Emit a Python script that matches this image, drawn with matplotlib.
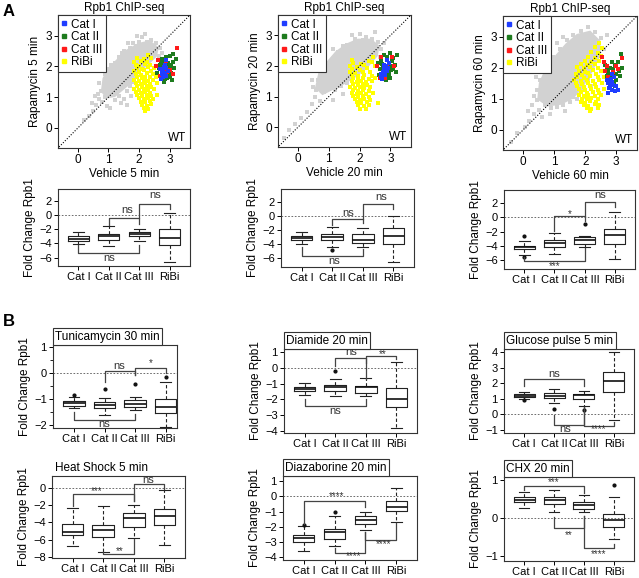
import numpy as np
import matplotlib
matplotlib.use("Agg")
import matplotlib.pyplot as plt
from matplotlib.patches import Polygon
from matplotlib.lines import Line2D
from matplotlib.transforms import offset_copy

plt.rcParams['font.family'] = ['Liberation Sans', 'DejaVu Sans']
plt.rcParams['font.size'] = 8

# ---------------- data ----------------
categories = ['Cat I', 'Cat II', 'Cat III', 'RiBi']

# Scatter panel 1: Vehicle 5 min vs Rapamycin 5 min
s5_gray_core = [(0.8, 1.2), (0.85, 1.6), (1.0, 1.9), (1.3, 2.2), (1.6, 2.5), (2.0, 2.72), (2.35, 2.8),
                (2.6, 2.6), (2.55, 2.35), (2.3, 2.1), (2.0, 1.85), (1.8, 1.55), (1.5, 1.3), (1.2, 1.05),
                (0.95, 1.0)]
s5_gray = [(0.2, 0.25), (0.35, 0.4), (0.5, 0.55), (0.6, 0.75), (0.7, 0.95), (0.75, 1.2), (0.8, 0.85),
           (0.9, 1.0), (0.95, 0.7), (1.05, 0.65), (1.2, 0.9), (1.35, 1.05), (1.5, 0.95), (1.6, 1.2),
           (1.7, 1.35), (1.8, 1.5), (1.0, 1.9), (1.2, 2.1), (1.35, 2.3), (1.5, 2.5), (1.7, 2.6),
           (1.8, 2.75), (2.0, 2.8), (2.1, 2.95), (2.25, 2.8), (2.4, 2.85), (2.55, 2.75), (2.7, 2.6),
           (2.65, 2.35), (1.9, 2.65), (1.6, 2.2), (0.65, 1.1), (1.15, 1.55), (1.3, 1.6), (0.95, 1.45),
           (2.3, 2.5), (0.45, 0.8), (1.4, 0.8), (2.75, 2.45), (1.95, 3.0), (0.7, 1.45), (0.9, 1.75),
           (1.1, 2.05), (1.45, 2.45), (1.65, 2.75), (2.2, 3.05), (1.6, 0.75), (1.75, 1.05), (0.55, 1.05)]
s5_ribi = [(2.3, 2.36), (1.95, 2.26), (2.15, 2.23), (2.4, 2.27), (1.85, 2.14), (2.05, 2.17), (2.25, 2.13),
           (1.9, 2.06), (2.0, 2.02), (2.2, 2.07), (2.35, 2.03), (1.95, 1.96), (2.1, 1.93), (2.3, 1.97),
           (2.5, 1.94), (1.85, 1.86), (2.0, 1.83), (2.15, 1.87), (2.4, 1.84), (1.9, 1.76), (2.05, 1.73),
           (2.25, 1.77), (2.45, 1.74), (1.95, 1.66), (2.1, 1.63), (2.2, 1.67), (2.35, 1.64), (2.55, 1.66),
           (1.85, 1.56), (2.0, 1.53), (2.15, 1.57), (2.3, 1.54), (2.45, 1.56), (1.9, 1.46), (2.05, 1.43),
           (2.2, 1.47), (2.35, 1.44), (2.6, 1.46), (1.95, 1.36), (2.1, 1.33), (2.25, 1.37), (2.4, 1.34),
           (1.85, 1.26), (2.0, 1.23), (2.15, 1.27), (2.3, 1.24), (2.5, 1.26), (1.9, 1.16), (2.05, 1.13),
           (2.2, 1.17), (2.35, 1.14), (1.95, 1.06), (2.1, 1.03), (2.25, 1.07), (2.4, 1.04), (2.6, 1.06),
           (2.0, 0.96), (2.15, 0.93), (2.3, 0.97), (2.45, 0.94), (2.05, 0.86), (2.2, 0.83), (2.35, 0.87),
           (2.1, 0.76), (2.25, 0.73), (2.4, 0.77), (2.15, 0.66), (2.3, 0.63), (2.2, 0.55)]
s5_cat1 = [(2.75, 1.75), (2.8, 1.85), (2.85, 1.8), (2.9, 1.95), (2.78, 1.65), (2.82, 1.98), (2.7, 1.9),
           (2.88, 1.7), (2.95, 1.85), (2.72, 1.6), (2.85, 2.05), (2.9, 2.2), (2.76, 1.78)]
s5_cat2 = [(2.65, 1.95), (2.7, 2.05), (2.8, 2.1), (2.9, 2.0), (3.0, 1.9), (3.05, 2.05), (2.95, 1.75),
           (2.85, 1.6), (3.0, 1.65), (2.75, 2.25), (2.6, 1.8), (3.1, 2.15), (3.15, 1.95), (2.9, 2.3),
           (2.95, 2.1), (3.0, 2.35), (2.68, 1.7), (3.08, 1.55), (2.82, 1.5), (3.2, 2.25), (2.98, 1.98),
           (2.88, 1.88), (3.05, 1.8), (2.72, 2.15), (2.92, 1.62), (3.12, 2.4)]
s5_cat3 = [(3.25, 2.6), (2.9, 2.18), (2.7, 1.68), (2.62, 2.2), (3.02, 1.88), (2.8, 1.72), (2.92, 1.82),
           (2.55, 2.0), (3.1, 1.75)]

# Scatter panel 2: 20 min
s20_gray_core = [(0.6, 1.3), (0.7, 1.75), (0.95, 2.1), (1.25, 2.45), (1.6, 2.7), (1.95, 2.85), (2.35, 2.85),
                 (2.6, 2.65), (2.55, 2.35), (2.25, 2.0), (1.9, 1.7), (1.5, 1.45), (1.1, 1.25), (0.8, 1.1)]
s20_gray = [(-0.45, -0.35), (-0.3, -0.1), (-0.1, 0.1), (0.1, 0.3), (0.3, 0.5), (0.45, 0.75), (0.55, 1.0),
            (0.6, 1.2), (0.7, 0.85), (0.85, 1.15), (1.0, 1.25), (1.2, 1.2), (1.4, 1.35), (1.6, 1.45),
            (1.75, 1.6), (0.65, 1.55), (0.8, 1.8), (1.0, 2.1), (1.3, 2.45), (1.6, 2.7), (1.85, 2.9),
            (2.0, 3.05), (2.2, 2.95), (2.4, 2.9), (2.6, 2.8), (2.7, 2.55), (2.65, 2.3), (2.5, 3.1),
            (1.45, 2.65), (2.1, 2.85), (0.9, 1.5), (1.3, 1.75), (2.35, 2.4), (1.15, 0.9), (0.5, 1.3),
            (1.7, 2.3), (2.0, 2.2), (0.45, 1.55), (0.6, 1.9), (0.85, 2.2), (1.15, 2.55), (1.75, 3.0),
            (1.45, 1.1), (1.7, 1.3), (2.8, 2.75)]
s20_ribi = [(2.45, 2.31), (1.75, 2.21), (2.3, 2.18), (1.8, 2.11), (2.05, 2.08), (2.4, 2.12), (1.7, 2.01),
            (1.9, 1.98), (2.15, 2.02), (2.5, 1.99), (1.75, 1.91), (2.0, 1.88), (2.25, 1.92), (1.7, 1.81),
            (1.85, 1.78), (2.1, 1.82), (2.35, 1.79), (1.75, 1.71), (1.95, 1.68), (2.15, 1.72), (2.4, 1.69),
            (1.8, 1.61), (1.95, 1.58), (2.1, 1.62), (2.3, 1.59), (2.5, 1.61), (1.75, 1.51), (1.9, 1.48),
            (2.05, 1.52), (2.2, 1.49), (2.4, 1.51), (1.8, 1.41), (1.95, 1.38), (2.1, 1.42), (2.25, 1.39),
            (1.7, 1.31), (1.85, 1.28), (2.0, 1.32), (2.15, 1.29), (2.35, 1.31), (1.8, 1.21), (1.95, 1.18),
            (2.1, 1.22), (2.3, 1.19), (1.75, 1.11), (1.9, 1.08), (2.05, 1.12), (2.2, 1.09), (2.45, 1.11),
            (1.8, 1.01), (1.95, 0.98), (2.1, 1.02), (2.3, 0.99), (1.85, 0.91), (2.0, 0.88), (2.15, 0.92),
            (2.35, 0.89), (1.9, 0.81), (2.05, 0.78), (2.25, 0.82), (2.6, 0.79), (1.95, 0.71), (2.15, 0.68),
            (2.3, 0.72), (2.0, 0.61), (2.2, 0.59)]
s20_cat1 = [(2.8, 1.9), (2.85, 2.0), (2.75, 1.8), (2.9, 1.85), (2.7, 1.65), (2.95, 2.1), (2.82, 1.7),
            (2.78, 2.05), (2.92, 1.95), (2.68, 1.75), (2.88, 2.2), (2.74, 1.58)]
s20_cat2 = [(2.6, 2.1), (2.7, 2.2), (2.9, 2.3), (3.0, 2.0), (3.1, 1.9), (2.95, 1.75), (2.85, 1.65),
            (3.05, 2.15), (2.65, 1.9), (3.15, 2.05), (3.2, 2.35), (2.8, 2.35), (3.0, 1.6), (2.75, 1.95),
            (2.92, 1.8), (3.08, 2.25), (2.62, 1.7), (2.98, 2.42), (3.18, 1.8), (2.86, 1.55), (2.72, 2.08),
            (3.02, 1.88)]
s20_cat3 = [(2.65, 1.6), (2.58, 2.0), (2.8, 1.75), (3.05, 2.3), (2.9, 1.98), (2.7, 2.3), (3.12, 2.0),
            (2.84, 1.62)]

# Scatter panel 3: 60 min
s60_gray_core = [(0.5, 1.0), (0.55, 1.5), (0.75, 1.95), (1.05, 2.35), (1.4, 2.75), (1.75, 3.05), (2.15, 3.15),
                 (2.45, 2.85), (2.45, 2.4), (2.2, 1.9), (1.9, 1.4), (1.6, 1.05), (1.2, 0.85), (0.8, 0.8)]
s60_gray = [(-0.4, -0.4), (-0.2, -0.1), (0.05, 0.1), (0.2, 0.3), (0.35, 0.5), (0.3, 0.8), (0.45, 0.95),
            (0.5, 0.65), (0.6, 0.4), (0.7, 0.8), (0.9, 0.7), (1.1, 0.75), (1.3, 0.8), (1.5, 0.9),
            (1.75, 1.0), (1.9, 1.3), (2.1, 1.6), (0.45, 1.3), (0.55, 1.6), (0.7, 2.05), (0.95, 2.35),
            (1.2, 2.6), (1.4, 2.9), (1.6, 3.05), (1.85, 3.2), (2.1, 3.3), (2.3, 3.15), (2.5, 2.95),
            (2.6, 2.6), (2.55, 2.35), (1.0, 1.1), (0.35, 1.1), (1.3, 3.0), (2.2, 1.4), (1.6, 1.05),
            (0.15, 0.6), (2.7, 3.05), (0.85, 0.5), (0.4, 1.7), (0.6, 2.2), (0.85, 2.5), (1.1, 2.8),
            (1.95, 1.05), (1.35, 0.6)]
s60_ribi = [(2.45, 2.8), (2.3, 2.66), (2.55, 2.63), (2.2, 2.51), (2.4, 2.48), (2.1, 2.36), (2.3, 2.33),
            (2.5, 2.37), (2.0, 2.21), (2.2, 2.18), (2.45, 2.22), (2.6, 2.19), (1.85, 2.11), (2.05, 2.08),
            (2.3, 2.12), (1.75, 2.01), (1.95, 1.98), (2.15, 2.02), (2.4, 1.99), (1.8, 1.91), (2.0, 1.88),
            (2.25, 1.92), (2.5, 1.89), (1.7, 1.81), (1.9, 1.78), (2.1, 1.82), (2.35, 1.79), (1.75, 1.71),
            (1.95, 1.68), (2.15, 1.72), (2.4, 1.69), (2.6, 1.71), (1.65, 1.61), (1.85, 1.58), (2.05, 1.62),
            (2.25, 1.59), (2.45, 1.61), (1.7, 1.51), (1.9, 1.48), (2.1, 1.52), (2.3, 1.49), (2.55, 1.51),
            (1.75, 1.41), (1.95, 1.38), (2.15, 1.42), (2.35, 1.39), (1.8, 1.31), (2.0, 1.28), (2.2, 1.32),
            (2.4, 1.29), (2.6, 1.31), (1.85, 1.21), (2.05, 1.18), (2.25, 1.22), (2.45, 1.19), (1.8, 1.11),
            (1.95, 1.08), (2.1, 1.12), (2.3, 1.09), (2.5, 1.11), (1.9, 1.01), (2.05, 0.98), (2.2, 1.02),
            (2.4, 0.99), (1.85, 0.91), (2.0, 0.88), (2.15, 0.92), (2.35, 0.89), (1.95, 0.81), (2.1, 0.78),
            (2.3, 0.82), (2.45, 0.79), (2.05, 0.71), (2.2, 0.68), (2.4, 0.72), (2.15, 0.6)]
s60_cat1 = [(2.75, 1.5), (2.8, 1.4), (2.85, 1.3), (2.9, 1.45), (2.95, 1.25), (2.7, 1.6), (2.82, 1.65),
            (2.88, 1.55), (2.78, 1.35), (3.0, 1.4), (2.72, 1.2), (2.92, 1.7), (2.85, 1.8), (3.05, 1.3)]
s60_cat2 = [(2.75, 1.85), (2.8, 2.0), (2.9, 1.95), (2.95, 2.1), (3.0, 1.8), (3.05, 2.2), (2.7, 1.95),
            (2.85, 2.2), (3.1, 1.9), (2.88, 1.7), (2.78, 1.75), (3.0, 1.6), (2.92, 1.5), (3.15, 2.45),
            (2.65, 2.1), (2.95, 1.4), (3.12, 1.75), (2.82, 1.55), (3.2, 2.0), (2.7, 1.75)]
s60_cat3 = [(2.6, 2.2), (2.7, 2.05), (2.75, 1.7), (3.05, 1.95), (3.2, 2.3), (2.65, 1.9), (2.55, 2.35),
            (2.9, 1.85), (3.0, 2.05)]

# Box plot summaries per category: [whisker low, Q1, median, Q3, whisker high]
rap5_box = [[-4.05, -3.6, -3.35, -3.0, -2.35], [-4.3, -3.5, -3.0, -2.65, -1.6],
            [-3.7, -3.0, -2.7, -2.45, -1.9], [-6.65, -4.2, -3.2, -2.0, 0.37]]
rap5_fliers = [[], [], [], []]
rap20_box = [[-4.0, -3.4, -3.1, -2.85, -2.2], [-4.4, -3.4, -2.9, -2.55, -1.5],
             [-4.4, -3.75, -3.4, -2.6, -1.65], [-6.45, -3.9, -2.8, -1.75, 0.05]]
rap20_fliers = [[], [-4.85], [], []]
rap60_box = [[-5.3, -4.45, -4.2, -3.95, -3.35], [-5.05, -4.2, -3.6, -3.2, -2.15],
             [-4.1, -3.7, -3.1, -2.75, -2.6], [-5.85, -3.7, -2.4, -1.6, 0.8]]
rap60_fliers = [[-2.65, -5.5], [], [-0.95], []]
tunic_box = [[-1.33, -1.25, -1.15, -1.07, -0.9], [-1.6, -1.35, -1.22, -1.09, -0.93],
             [-1.42, -1.29, -1.16, -1.03, -0.9], [-2.08, -1.52, -1.29, -1.0, -0.32]]
tunic_fliers = [[-0.84], [-0.62], [-0.39], [-0.15]]
diamide_box = [[-1.7, -1.45, -1.34, -1.21, -0.96], [-1.77, -1.49, -1.21, -1.09, -0.74],
               [-1.81, -1.6, -1.21, -1.13, -0.66], [-3.83, -2.49, -1.98, -1.28, 0.36]]
diamide_fliers = [[], [-0.21], [], []]
glucose_box = [[0.99, 1.09, 1.2, 1.31, 1.44], [0.75, 1.03, 1.2, 1.35, 1.61],
               [0.54, 0.97, 1.24, 1.31, 1.52], [-0.36, 1.46, 2.17, 2.7, 4.0]]
glucose_fliers = [[0.92], [0.32], [0.28], []]
heat_box = [[-6.76, -5.52, -5.14, -4.17, -2.36], [-7.45, -5.71, -4.83, -4.29, -2.12],
            [-5.83, -4.48, -3.47, -2.9, -1.9], [-6.6, -4.29, -3.28, -2.43, -0.19]]
heat_fliers = [[], [], [], []]
diaz_box = [[-3.57, -2.99, -2.73, -2.55, -1.97], [-3.25, -2.77, -2.34, -2.12, -1.3],
            [-2.19, -1.8, -1.58, -1.3, -1.0], [-1.69, -0.97, -0.71, -0.32, 0.54]]
diaz_fliers = [[-1.9], [-1.04], [], []]
chx_box = [[0.26, 0.42, 0.49, 0.56, 0.69], [0.16, 0.37, 0.48, 0.56, 0.75],
           [0.16, 0.24, 0.35, 0.43, 0.61], [-0.55, -0.22, -0.04, 0.12, 0.55]]
chx_fliers = [[], [], [], [0.88]]

# significance brackets: (cat a, cat b, bar y, leg a end, leg b end, label, text x, text y)
rap5_sig = [(2, 3, -0.35, -1.4, -1.2, 'ns', 2.6, 0.75), (3, 4, 1.6, -0.35, 0.9, 'ns', 3.52, 2.85),
            (1, 3, -5.35, -4.2, -4.2, 'ns', 2.0, -6.05)]
rap20_sig = [(2, 3, -0.4, -1.25, -1.0, 'ns', 2.53, 0.45), (3, 4, 1.65, -0.4, 1.0, 'ns', 3.6, 2.65),
             (1, 3, -5.7, -4.4, -4.6, 'ns', 2.05, -6.4)]
rap60_sig = [(2, 3, 0.15, -1.9, -0.5, '*', 2.52, 0.45), (3, 4, 2.15, 0.15, 1.45, 'ns', 3.5, 3.15),
             (1, 3, -6.1, -5.5, -4.3, '***', 2.0, -6.85)]
tunic_sig = [(2, 3, 0.1, -0.32, -0.06, 'ns', 2.48, 0.28), (3, 4, 0.22, -0.06, 0.0, '*', 3.5, 0.4),
             (1, 3, -1.78, -1.48, -1.55, 'ns', 2.0, -1.95)]
diamide_sig = [(2, 3, 0.64, 0.1, 0.32, 'ns', 2.53, 0.98), (3, 4, 0.74, -0.7, 0.57, '**', 3.55, 0.88),
               (1, 3, -2.4, -2.0, -2.0, 'ns', 2.0, -2.72)]
glucose_sig = [(1, 3, 2.25, 1.82, 1.82, 'ns', 2.0, 2.58), (2, 3, -0.69, -0.04, 0.45, 'ns', 2.36, -0.97),
               (3, 4, -0.75, 0.45, -0.47, '****', 3.5, -0.92)]
heat_sig = [(1, 3, -0.7, -2.05, -1.47, '***', 1.78, -0.3), (3, 4, 0.46, -1.47, -0.04, 'ns', 3.47, 1.0),
            (2, 3, -7.72, -7.5, -5.9, '**', 2.54, -7.35)]
diaz_sig = [(1, 3, -0.32, -1.8, -0.71, '****', 2.07, 0.02), (2, 3, -3.7, -3.42, -2.34, '****', 2.6, -3.9),
            (3, 4, -2.88, -2.34, -1.75, '****', 3.6, -3.15)]
chx_sig = [(1, 3, 0.85, 0.74, 0.66, '***', 2.0, 0.94), (2, 3, -0.26, 0.03, 0.05, '**', 2.5, -0.43),
           (3, 4, -0.78, 0.05, -0.68, '****', 3.5, -0.93)]

# ---------------- drawing ----------------
W, H = 639, 578
fig = plt.figure(figsize=(W / 100, H / 100), dpi=100)


def rect(l, t, r, b):
    return [l / W, 1 - b / H, (r - l) / W, (b - t) / H]


GRAY = '#d2d2d2'
COL1, COL2, COL3, COLR = '#1f3dff', '#1e7b1e', '#ff1a1a', '#ffff00'


def style_axes(ax):
    for s in ax.spines.values():
        s.set_linewidth(0.8)
        s.set_color('#333333')
    ax.tick_params(direction='out', length=3, width=0.7, pad=1.5, labelsize=8)


def scatter_panel(r, core, gray, ribi, c1, c2, c3, xl, yl):
    ax = fig.add_axes(rect(*r))
    style_axes(ax)
    ax.add_patch(Polygon(core, closed=True, fc=GRAY, ec=GRAY, lw=2, zorder=1))
    g = np.array(gray)
    ax.scatter(g[:, 0], g[:, 1], s=5, marker='s', c=GRAY, lw=0, zorder=1)
    for pts, col in [(ribi, COLR), (c2, COL2), (c3, COL3), (c1, COL1)]:
        p = np.array(pts)
        ax.scatter(p[:, 0], p[:, 1], s=5, marker='s', c=col, lw=0, zorder=2)
    ax.plot([-1, 4], [-1, 4], ls=(0, (1, 1.5)), color='k', lw=0.8, zorder=3)
    ax.set_xlim(-0.65, 3.67)
    ax.set_ylim(-0.65, 3.67)
    ax.set_xticks([0, 1, 2, 3])
    ax.set_yticks([0, 1, 2, 3])
    ax.tick_params(labelsize=8.5)
    ax.set_xlabel(xl, fontsize=8.5, labelpad=1)
    ax.set_ylabel(yl, fontsize=8.5, labelpad=3)
    ax.set_title('Rpb1 ChIP-seq', fontsize=8.5, pad=3)
    handles = [Line2D([], [], marker='s', ls='none', color=c, ms=3.5) for c in (COL1, COL2, COL3, COLR)]
    leg = ax.legend(handles, categories, loc='upper left', borderaxespad=0, handlelength=0.5,
                    handletextpad=0.3, labelspacing=0.05, borderpad=0.3, fancybox=False,
                    framealpha=1, edgecolor='#333333', fontsize=8.5)
    leg.get_frame().set_linewidth(0.8)
    ax.text(0.97, 0.03, 'WT', ha='right', va='bottom', transform=ax.transAxes, fontsize=8.5)


def box_panel(r, box, fliers, sig, ylim, yticks, title=None, boxed=True, minor=None, xlim=(0.33, 4.67)):
    ax = fig.add_axes(rect(*r))
    style_axes(ax)
    stats = [dict(whislo=b[0], q1=b[1], med=b[2], q3=b[3], whishi=b[4], fliers=f, label=c)
             for b, f, c in zip(box, fliers, categories)]
    ax.axhline(0, ls=(0, (2, 2)), color='#555555', lw=0.6, zorder=0)
    ax.bxp(stats, positions=[1, 2, 3, 4], widths=0.7, capwidths=0.35, showfliers=True,
           boxprops=dict(color='#222222', lw=0.8), whiskerprops=dict(color='#222222', lw=0.8, ls=(0, (3, 2))),
           capprops=dict(color='#222222', lw=0.8), medianprops=dict(color='#111111', lw=1.2),
           flierprops=dict(marker='o', ms=2, mfc='#111111', mec='#111111'), manage_ticks=False)
    for a, b, yb, ya, yb2, lab, tx, ty in sig:
        ax.plot([a, a, b, b], [ya, yb, yb, yb2], color='#444444', lw=0.9, zorder=3)
        ax.text(tx, ty, lab, ha='center', va='center', fontsize=8 if lab == 'ns' else 7, color='#333333')
    ax.set_xlim(*xlim)
    ax.set_ylim(*ylim)
    ax.set_xticks([1, 2, 3, 4], categories)
    ax.set_yticks(yticks)
    if minor is not None:
        ax.set_yticks(minor, minor=True)
        ax.tick_params(axis='y', which='minor', length=2, width=0.6)
    ax.tick_params(axis='x', labelsize=8, pad=1)
    ax.set_ylabel('Fold Change Rpb1', fontsize=8.5, labelpad=2)
    if title:
        if boxed:
            tr = offset_copy(ax.transAxes, fig=fig, x=1.6, y=1.6, units='points')
            ax.text(0, 1, title, transform=tr, ha='left', va='bottom', fontsize=8.5,
                    bbox=dict(boxstyle='square,pad=0.2', fc='white', ec='#333333', lw=0.8))
        else:
            ax.text(0.02, 1.02, title, transform=ax.transAxes, ha='left', va='bottom', fontsize=8.5)
    return ax


scatter_panel((58, 15, 190, 148), s5_gray_core, s5_gray, s5_ribi, s5_cat1, s5_cat2, s5_cat3,
              'Vehicle 5 min', 'Rapamycin 5 min')
scatter_panel((278, 15, 411, 147), s20_gray_core, s20_gray, s20_ribi, s20_cat1, s20_cat2, s20_cat3,
              'Vehicle 20 min', 'Rapamycin 20 min')
scatter_panel((503, 16, 637, 150), s60_gray_core, s60_gray, s60_ribi, s60_cat1, s60_cat2, s60_cat3,
              'Vehicle 60 min', 'Rapamycin 60 min')

yA = [2, 0, -2, -4, -6]
box_panel((58, 189, 190, 266), rap5_box, rap5_fliers, rap5_sig, (-7.2, 3.7), yA)
box_panel((281, 189, 414, 267), rap20_box, rap20_fliers, rap20_sig, (-7.2, 3.8), yA)
box_panel((504, 190, 635, 269), rap60_box, rap60_fliers, rap60_sig, (-7.2, 3.8), yA)

box_panel((53, 345, 177, 428), tunic_box, tunic_fliers, tunic_sig, (-2.1, 1.09), [1, 0, -1, -2],
          'Tunicamycin 30 min', minor=[0.5, -0.5, -1.5], xlim=(0.31, 4.37))
box_panel((284, 349, 417, 433), diamide_box, diamide_fliers, diamide_sig, (-4.15, 1.2),
          [1, 0, -1, -2, -3, -4], 'Diamide 20 min')
box_panel((504, 349, 634, 433), glucose_box, glucose_fliers, glucose_sig, (-1.2, 4.2),
          [4, 3, 2, 1, 0, -1], 'Glucose pulse 5 min')
box_panel((52, 476, 185, 558), heat_box, heat_fliers, heat_sig, (-8.15, 1.43),
          [0, -2, -4, -6, -8], 'Heat Shock 5 min', boxed=False)
box_panel((283, 476, 417, 560), diaz_box, diaz_fliers, diaz_sig, (-4.18, 1.34),
          [1, 0, -1, -2, -3, -4], 'Diazaborine 20 min')
box_panel((504, 477, 634, 561), chx_box, chx_fliers, chx_sig, (-1.12, 1.08), [1, 0, -1], 'CHX 20 min')

fig.text(3 / W, 1 - 4 / H, 'A', fontsize=12, fontweight='bold', ha='left', va='top')
fig.text(3 / W, 1 - 314 / H, 'B', fontsize=12, fontweight='bold', ha='left', va='top')

fig.savefig('out.png', dpi=100)
